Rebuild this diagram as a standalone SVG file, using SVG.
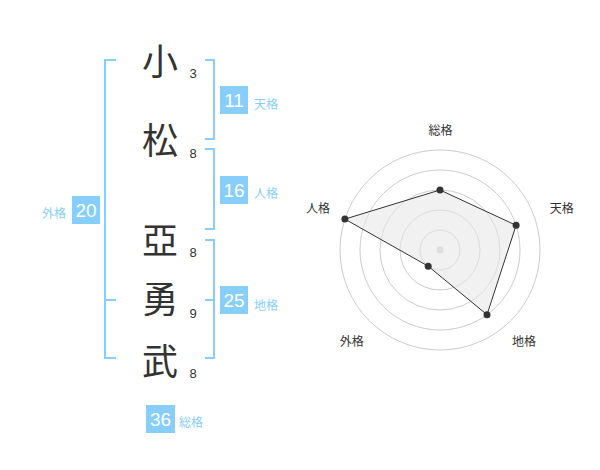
<svg xmlns="http://www.w3.org/2000/svg" width="600" height="470" viewBox="0 0 600 470">
<style>
.kanji{font-family:"Noto Sans CJK JP","Noto Sans CJK SC",sans-serif;font-size:36px;fill:#333;text-anchor:middle}
.stroke{font-family:"Liberation Sans",Arial,sans-serif;font-size:13px;fill:#333;text-anchor:middle}
.br{fill:none;stroke:#87cefa;stroke-width:2}
.box{fill:#87cefa}
.num{font-family:"Liberation Sans",Arial,sans-serif;font-size:19px;fill:#fff;text-anchor:middle}
.lbl{font-family:"Noto Sans CJK JP","Noto Sans CJK SC",sans-serif;font-size:12px;fill:#87cefa}
.ring{fill:none;stroke:#ccc;stroke-width:1}
.rl{font-family:"Noto Sans CJK JP","Noto Sans CJK SC",sans-serif;font-size:12px;fill:#333;text-anchor:middle}
.pt{fill:#333}
</style>
<rect width="600" height="470" fill="#fff"/>
<g id="connectors">
<path class="br" d="M116,60 H105 V358 H116 M105,300 H116"/>
<path class="br" d="M205,60 H214 V139 H205"/>
<path class="br" d="M205,149 H214 V229 H205"/>
<path class="br" d="M205,240 H214 V358 H205 M205,300 H214"/>
</g>
<g id="char1"><text class="kanji" x="160" y="74.5">小</text><text class="stroke" x="193" y="78">3</text></g>
<g id="char2"><text class="kanji" x="160" y="154">松</text><text class="stroke" x="193" y="157.5">8</text></g>
<g id="char3"><text class="kanji" x="160" y="253.5">亞</text><text class="stroke" x="193" y="256.7">8</text></g>
<g id="char4"><text class="kanji" x="160" y="313">勇</text><text class="stroke" x="193" y="318">9</text></g>
<g id="char5"><text class="kanji" x="160" y="375">武</text><text class="stroke" x="193" y="378">8</text></g>
<g id="tenkaku"><rect class="box" x="220" y="86" width="28" height="28"/><text class="num" x="234" y="106.8">11</text><text class="lbl" x="254" y="108.5">天格</text></g>
<g id="jinkaku"><rect class="box" x="220" y="176" width="28" height="28"/><text class="num" x="234" y="196.8">16</text><text class="lbl" x="254" y="197.5">人格</text></g>
<g id="chikaku"><rect class="box" x="220" y="286" width="28" height="28"/><text class="num" x="234" y="306.8">25</text><text class="lbl" x="254" y="309.5">地格</text></g>
<g id="gaikaku"><rect class="box" x="72" y="196" width="28" height="28"/><text class="num" x="86" y="216.8">20</text><text class="lbl" x="66" y="217.5" text-anchor="end">外格</text></g>
<g id="soukaku"><rect class="box" x="146" y="405" width="29" height="28"/><text class="num" x="160.5" y="425.8">36</text><text class="lbl" x="179" y="427">総格</text></g>
<g id="radar">
<circle class="ring" cx="440" cy="250" r="20"/>
<circle class="ring" cx="440" cy="250" r="40"/>
<circle class="ring" cx="440" cy="250" r="60"/>
<circle class="ring" cx="440" cy="250" r="80"/>
<circle class="ring" cx="440" cy="250" r="100"/>
<circle cx="440" cy="250" r="3.5" fill="#ccc"/>
<polygon points="440,190 516.1,225.3 487,314.7 428.2,266.2 344.9,219.1" fill="#e8e8e8" fill-opacity="0.6" stroke="#333" stroke-width="1"/>
<circle class="pt" cx="440" cy="190" r="3.5"/>
<circle class="pt" cx="516.1" cy="225.3" r="3.5"/>
<circle class="pt" cx="487" cy="314.7" r="3.5"/>
<circle class="pt" cx="428.2" cy="266.2" r="3.5"/>
<circle class="pt" cx="344.9" cy="219.1" r="3.5"/>
<text class="rl" x="440.5" y="134.6">総格</text>
<text class="rl" x="561.7" y="212.6">天格</text>
<text class="rl" x="524" y="345.6">地格</text>
<text class="rl" x="351.7" y="345.6">外格</text>
<text class="rl" x="318" y="212.6">人格</text>
</g>
</svg>
